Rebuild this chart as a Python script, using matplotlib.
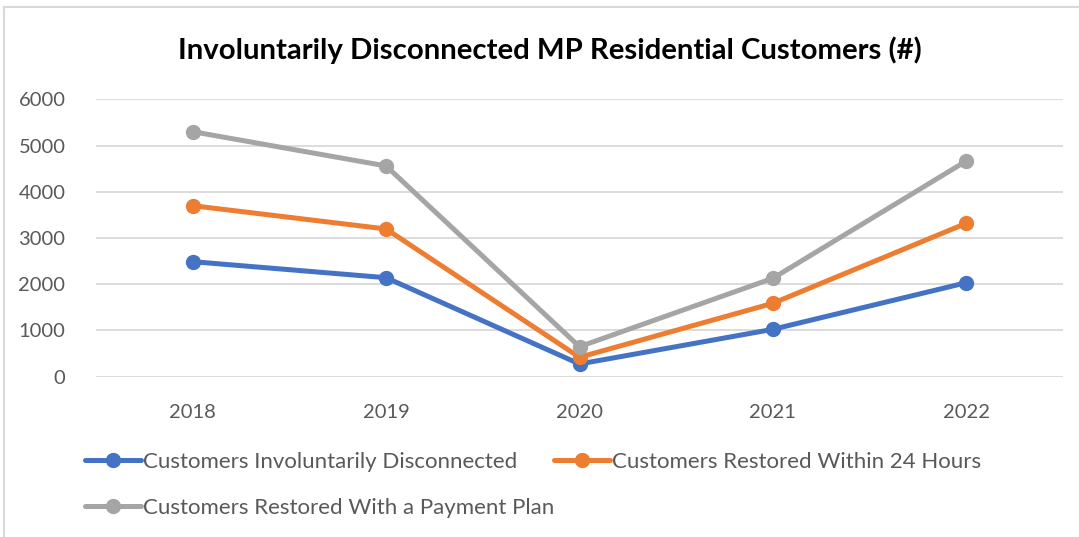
import matplotlib
matplotlib.use("Agg")
import matplotlib.pyplot as plt
from matplotlib.lines import Line2D

years = ["2018", "2019", "2020", "2021", "2022"]
disconnected = [2488, 2141, 275, 1025, 2033]
restored_24h = [3699, 3195, 420, 1588, 3318]
restored_plan = [5300, 4558, 649, 2129, 4666]
series_names = ["Customers Involuntarily Disconnected",
                "Customers Restored Within 24 Hours",
                "Customers Restored With a Payment Plan"]
colors = ["#4472C4", "#ED7D31", "#A5A5A5"]
yticks = [0, 1000, 2000, 3000, 4000, 5000, 6000]
title = "Involuntarily Disconnected MP Residential Customers (#)"

plt.rcParams['font.family'] = ['Lato', 'DejaVu Sans']

W, H = 1079, 537
fig = plt.figure(figsize=(W / 100, H / 100), dpi=100)
ax = fig.add_axes([96 / W, 1 - 376.7 / H, (1063 - 96) / W, (376.7 - 99.3) / H])

x = [i + 0.5 for i in range(len(years))]
handles = []
for vals, name, c in zip([disconnected, restored_24h, restored_plan], series_names, colors):
    h, = ax.plot(x, vals, color=c, lw=3.6, marker='o', markersize=10,
                 solid_capstyle='round', label=name, zorder=3)
    handles.append(h)

ax.set_xlim(0, len(years))
ax.set_ylim(0, 6000)
ax.set_xticks(x)
ax.set_xticklabels(years)
ax.set_yticks(yticks)
ax.set_yticklabels([str(v) for v in yticks])
ax.tick_params(axis='both', length=0, labelsize=14.5, labelcolor='#595959')
ax.tick_params(axis='x', pad=20)
ax.tick_params(axis='y', pad=22)
ax.grid(axis='y', color='#D9D9D9', lw=1.3)
ax.set_axisbelow(True)
for s in ax.spines.values():
    s.set_visible(False)

fig.text(550 / W, 1 - 50 / H, title, ha='center', va='center',
         fontsize=21.2, fontweight='bold', color='black')

leg = fig.legend([handles[0], handles[2], handles[1]],
                 [series_names[0], series_names[2], series_names[1]],
                 ncol=2, loc='upper left', bbox_to_anchor=(74 / W, 1 - 441 / H),
                 frameon=False, fontsize=16, handlelength=2.5, handletextpad=0.1,
                 columnspacing=0.0, labelspacing=1.15, borderpad=0)
for t in leg.get_texts():
    t.set_color('#595959')

fig.add_artist(Line2D([3.5 / W, 3.5 / W], [0, 1 - 7 / H], color='#D9D9D9', lw=1.5))
fig.add_artist(Line2D([3.5 / W, 1], [1 - 7 / H, 1 - 7 / H], color='#D9D9D9', lw=1.5))

fig.savefig("out.png", dpi=100)
